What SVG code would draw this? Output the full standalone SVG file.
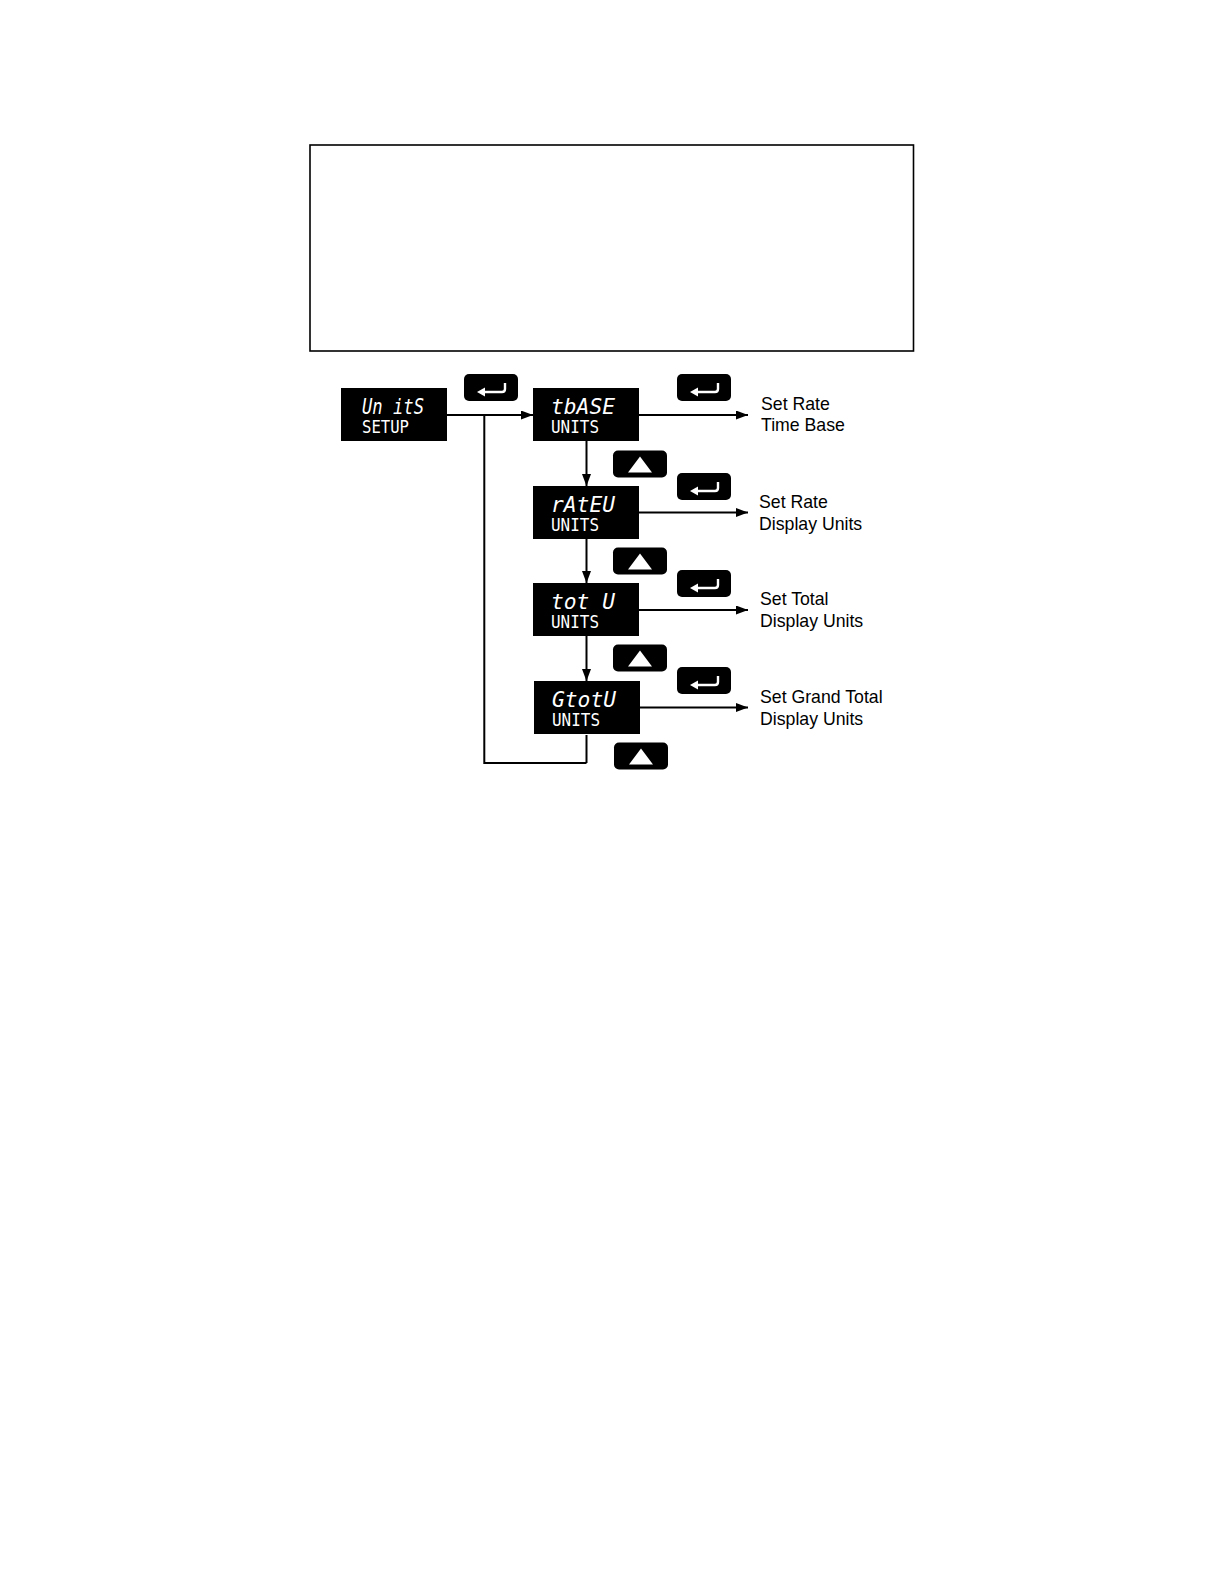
<svg xmlns="http://www.w3.org/2000/svg" width="1224" height="1584" viewBox="0 0 1224 1584">
<style>
.disp{fill:#000}
.btn{fill:#000}
.seg{fill:#fff;font-family:"DejaVu Sans Mono",monospace;font-size:21px;font-style:oblique}
.sub{fill:#fff;font-family:"DejaVu Sans Mono",monospace;font-size:17px}
.lbl{fill:#000;font-family:"Liberation Sans",Arial,sans-serif;font-size:17.7px}
.ln{fill:none;stroke:#000;stroke-width:2}
.ic{fill:none;stroke:#fff;stroke-width:2.4;stroke-linejoin:round}
</style>
<defs>
<marker id="ah" viewBox="0 0 12 9" refX="12" refY="4.5" markerWidth="12" markerHeight="9" markerUnits="userSpaceOnUse" orient="auto">
<path d="M0,0 L12,4.5 L0,9 z" fill="#000"/>
</marker>
<g id="enter">
<rect x="0" y="0" width="54" height="27" rx="5" class="btn"/>
<path d="M41,9 V15 Q41,18 38,18 H19" class="ic"/>
<path d="M13,18 L21,13.5 L21,22.5 z" fill="#fff"/>
</g>
<g id="up">
<rect x="0" y="0" width="54" height="27" rx="5" class="btn"/>
<path d="M15,22 L27,6 L39,22 z" fill="#fff"/>
</g>
</defs>
<rect x="310" y="145" width="603.5" height="206" fill="none" stroke="#000" stroke-width="1.6"/>
<g id="connectors">
<path d="M447,415 H533" class="ln" marker-end="url(#ah)"/>
<path d="M586.5,763 V735" class="ln"/>
<path d="M586.5,763 H484.3 V415" class="ln"/>
<path d="M586.5,441 V486" class="ln" marker-end="url(#ah)"/>
<path d="M586.5,539 V583" class="ln" marker-end="url(#ah)"/>
<path d="M586.5,636 V681" class="ln" marker-end="url(#ah)"/>
<path d="M639,415 H748" class="ln" marker-end="url(#ah)"/>
<path d="M639,512.5 H748" class="ln" marker-end="url(#ah)"/>
<path d="M639,610 H748" class="ln" marker-end="url(#ah)"/>
<path d="M639,707.5 H748" class="ln" marker-end="url(#ah)"/>
</g>
<g id="units-setup">
<rect x="341" y="388" width="106" height="53" class="disp"/>
<text x="362" y="414" class="seg" textLength="62" lengthAdjust="spacingAndGlyphs">Un itS</text>
<text x="362" y="433" class="sub" textLength="47" lengthAdjust="spacingAndGlyphs">SETUP</text>
</g>
<g id="tbase">
<rect x="533" y="388" width="106" height="53" class="disp"/>
<text x="551" y="414" class="seg" textLength="64" lengthAdjust="spacingAndGlyphs">tbASE</text>
<text x="551" y="433" class="sub" textLength="48" lengthAdjust="spacingAndGlyphs">UNITS</text>
</g>
<g id="rateu">
<rect x="533" y="486" width="106" height="53" class="disp"/>
<text x="551" y="512" class="seg" textLength="64" lengthAdjust="spacingAndGlyphs">rAtEU</text>
<text x="551" y="531" class="sub" textLength="48" lengthAdjust="spacingAndGlyphs">UNITS</text>
</g>
<g id="totu">
<rect x="533" y="583" width="106" height="53" class="disp"/>
<text x="551" y="609" class="seg" textLength="64" lengthAdjust="spacingAndGlyphs">tot U</text>
<text x="551" y="628" class="sub" textLength="48" lengthAdjust="spacingAndGlyphs">UNITS</text>
</g>
<g id="gtotu">
<rect x="534" y="681" width="106" height="53" class="disp"/>
<text x="552" y="707" class="seg" textLength="64" lengthAdjust="spacingAndGlyphs">GtotU</text>
<text x="552" y="726" class="sub" textLength="48" lengthAdjust="spacingAndGlyphs">UNITS</text>
</g>
<g id="buttons">
<use href="#enter" x="464" y="374"/>
<use href="#enter" x="677" y="374"/>
<use href="#enter" x="677" y="473"/>
<use href="#enter" x="677" y="570"/>
<use href="#enter" x="677" y="667"/>
<use href="#up" x="613" y="450.5"/>
<use href="#up" x="613" y="547.5"/>
<use href="#up" x="613" y="644.5"/>
<use href="#up" x="614" y="742.5"/>
</g>
<g id="labels">
<text x="761" y="410" class="lbl">Set Rate</text>
<text x="761" y="431" class="lbl">Time Base</text>
<text x="759" y="508" class="lbl">Set Rate</text>
<text x="759" y="529.5" class="lbl">Display Units</text>
<text x="760" y="605" class="lbl">Set Total</text>
<text x="760" y="626.5" class="lbl">Display Units</text>
<text x="760" y="703" class="lbl">Set Grand Total</text>
<text x="760" y="724.5" class="lbl">Display Units</text>
</g>
</svg>
